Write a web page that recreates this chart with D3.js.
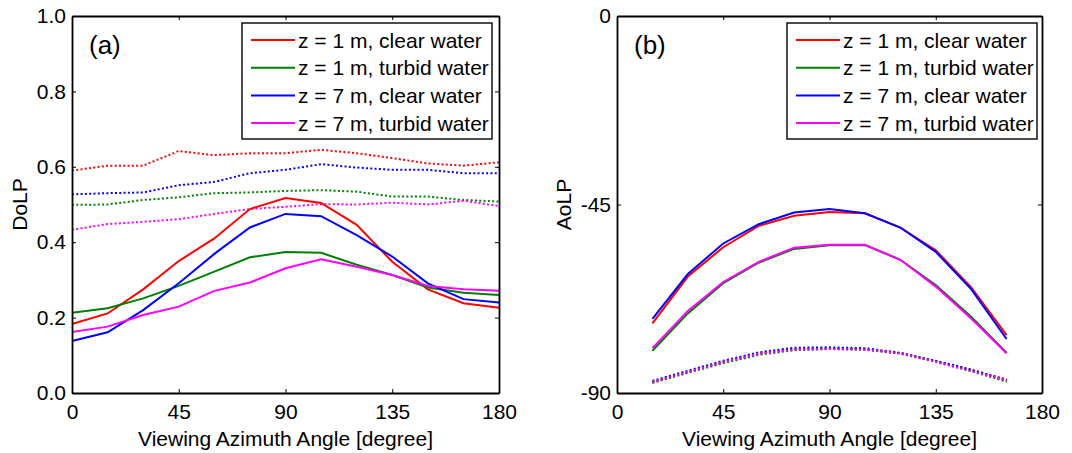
<!doctype html>
<html>
<head>
<meta charset="utf-8">
<script src="https://d3js.org/d3.v7.min.js"></script>
<style>
  body { margin: 0; background: #fff; }
  svg text { font-family: "Liberation Sans", Arial, sans-serif; fill: #000; }
</style>
</head>
<body>
<svg id="chart" width="1072" height="453"></svg>
<script>
// series names and colours (legend order)
const names = ["z = 1 m, clear water", "z = 1 m, turbid water", "z = 7 m, clear water", "z = 7 m, turbid water"];
const colors = ["#ff0000", "#008000", "#0000ff", "#ff00ff"];

// (a) DoLP, angles 0..180 step 15
const anglesA = [0, 15, 30, 45, 60, 75, 90, 105, 120, 135, 150, 165, 180];
const dolpSolid = [
  [0.183, 0.211, 0.275, 0.350, 0.410, 0.488, 0.517, 0.504, 0.446, 0.348, 0.275, 0.238, 0.226],
  [0.213, 0.225, 0.251, 0.284, 0.322, 0.360, 0.374, 0.372, 0.340, 0.313, 0.280, 0.266, 0.260],
  [0.138, 0.161, 0.220, 0.291, 0.369, 0.439, 0.475, 0.469, 0.419, 0.362, 0.291, 0.249, 0.240],
  [0.162, 0.176, 0.207, 0.229, 0.271, 0.293, 0.331, 0.355, 0.335, 0.313, 0.284, 0.275, 0.271]
];
const dolpDotted = [
  [0.590, 0.603, 0.603, 0.642, 0.631, 0.636, 0.636, 0.645, 0.636, 0.623, 0.609, 0.603, 0.612],
  [0.499, 0.500, 0.512, 0.519, 0.530, 0.532, 0.536, 0.538, 0.534, 0.521, 0.521, 0.512, 0.508],
  [0.527, 0.530, 0.532, 0.551, 0.560, 0.583, 0.592, 0.607, 0.598, 0.592, 0.592, 0.583, 0.583],
  [0.433, 0.448, 0.454, 0.461, 0.475, 0.488, 0.494, 0.501, 0.500, 0.505, 0.500, 0.510, 0.496]
];

// (b) AoLP, angles 15..165 step 15
const anglesB = [15, 30, 45, 60, 75, 90, 105, 120, 135, 150, 165];
const aolpSolid = [
  [-73.4, -62.2, -55.2, -50.1, -47.7, -46.8, -47.1, -50.5, -55.9, -64.8, -76.2],
  [-79.9, -71.0, -63.8, -58.9, -55.6, -54.7, -54.7, -58.2, -64.2, -71.8, -80.4],
  [-72.3, -61.6, -54.3, -49.7, -46.9, -46.1, -47.1, -50.5, -56.3, -65.2, -77.1],
  [-79.3, -70.4, -63.5, -58.7, -55.3, -54.6, -54.6, -58.2, -64.6, -72.2, -80.5]
];
const aolpDotted = [
  [-87.5, -85.0, -82.6, -80.6, -79.5, -79.4, -79.6, -80.5, -82.4, -84.5, -86.7],
  [-87.6, -85.2, -82.9, -80.9, -79.8, -79.5, -79.7, -80.6, -82.6, -84.8, -87.3],
  [-87.1, -84.7, -82.3, -80.3, -79.2, -79.1, -79.3, -80.4, -82.3, -84.4, -87.0],
  [-87.4, -85.0, -82.6, -80.6, -79.6, -79.5, -79.6, -80.5, -82.5, -84.8, -86.9]
];

const xTicks = [0, 45, 90, 135, 180];
const yTicksA = [0, 0.2, 0.4, 0.6, 0.8, 1.0];
const yTicksB = [0, -45, -90];

const FS = 21;
const svg = d3.select("#chart");

function panel(opt) {
  const x = d3.scaleLinear().domain([0, 180]).range([opt.left, opt.right]);
  const y = d3.scaleLinear().domain(opt.yDomain).range([opt.bottom, opt.top]);
  const g = svg.append("g");

  const line = d3.line().x(d => x(d[0])).y(d => y(d[1]));
  // dotted first, then solid
  opt.dotted.forEach((s, i) => {
    g.append("path")
      .datum(opt.angles.map((a, k) => [a, s[k]]))
      .attr("d", line)
      .attr("fill", "none")
      .attr("stroke", colors[i])
      .attr("stroke-width", 2)
      .attr("stroke-dasharray", "2,2.3");
  });
  opt.solid.forEach((s, i) => {
    g.append("path")
      .datum(opt.angles.map((a, k) => [a, s[k]]))
      .attr("d", line)
      .attr("fill", "none")
      .attr("stroke", colors[i])
      .attr("stroke-width", 2);
  });

  // box axes, inward ticks on all sides
  const bottomAx = d3.axisBottom(x).tickValues(xTicks).tickSizeInner(-4).tickSizeOuter(0).tickPadding(11);
  const topAx = d3.axisTop(x).tickValues(xTicks).tickSizeInner(-4).tickSizeOuter(0).tickFormat("");
  const leftAx = d3.axisLeft(y).tickValues(opt.yTicks).tickSizeInner(-4).tickSizeOuter(0).tickPadding(6).tickFormat(opt.fmt);
  const rightAx = d3.axisRight(y).tickValues(opt.yTicks).tickSizeInner(-4).tickSizeOuter(0).tickFormat("");

  [[bottomAx, `translate(0,${opt.bottom})`], [topAx, `translate(0,${opt.top})`],
   [leftAx, `translate(${opt.left},0)`], [rightAx, `translate(${opt.right},0)`]].forEach(([ax, tr]) => {
    const a = g.append("g").attr("transform", tr).call(ax);
    a.select(".domain").attr("stroke", "#000").attr("stroke-width", 1.8);
    a.selectAll(".tick line").attr("stroke", "#000").attr("stroke-width", 1);
    a.selectAll("text").attr("font-size", FS).attr("fill", "#000")
      .style("font-family", "'Liberation Sans', Arial, sans-serif");
  });

  // axis titles
  g.append("text")
    .attr("x", (opt.left + opt.right) / 2).attr("y", 446)
    .attr("text-anchor", "middle").attr("font-size", FS)
    .text("Viewing Azimuth Angle [degree]");
  g.append("text")
    .attr("transform", `translate(${opt.left - opt.ylabOff},${(opt.top + opt.bottom) / 2}) rotate(-90)`)
    .attr("text-anchor", "middle").attr("font-size", FS)
    .text(opt.ylabel);

  // panel tag
  g.append("text")
    .attr("x", opt.left + 17).attr("y", 54)
    .attr("font-size", 26)
    .text(opt.tag);

  // legend
  const lx = opt.legendX, ly = 23, lw = 250, lh = 116;
  const leg = g.append("g");
  leg.append("rect").attr("x", lx).attr("y", ly).attr("width", lw).attr("height", lh)
    .attr("fill", "#fff").attr("stroke", "#000").attr("stroke-width", 1.4);
  names.forEach((n, i) => {
    const yy = ly + 17 + i * 27.7;
    leg.append("line").attr("x1", lx + 9).attr("x2", lx + 53).attr("y1", yy).attr("y2", yy)
      .attr("stroke", colors[i]).attr("stroke-width", 2);
    leg.append("text").attr("x", lx + 56).attr("y", yy + 7.5).attr("font-size", FS).text(n);
  });
}

panel({
  left: 72, right: 499, top: 16, bottom: 393,
  yDomain: [0, 1], yTicks: yTicksA, fmt: d3.format(".1f"),
  angles: anglesA, solid: dolpSolid, dotted: dolpDotted,
  ylabel: "DoLP", ylabOff: 45, tag: "(a)", legendX: 242
});
panel({
  left: 617, right: 1042, top: 16, bottom: 393,
  yDomain: [-90, 0], yTicks: yTicksB, fmt: d => d,
  angles: anglesB, solid: aolpSolid, dotted: aolpDotted,
  ylabel: "AoLP", ylabOff: 46, tag: "(b)", legendX: 787
});
</script>
</body>
</html>
